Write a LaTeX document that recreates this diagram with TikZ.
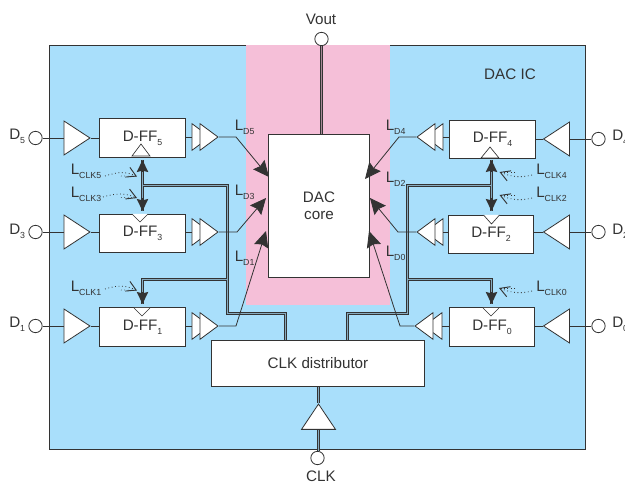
\documentclass[tikz,border=0pt]{standalone}
\usepackage{fontspec}
\setmainfont{Liberation Sans}
\usetikzlibrary{
  shapes.geometric,
  arrows.meta
}
\definecolor{icblue}{HTML}{A9DFFB}
\definecolor{corepink}{HTML}{F5BFD8}
\definecolor{inkgray}{HTML}{333333}
\newcommand{\lsub}[2]{#1\raisebox{-2.8pt}{\fontsize{6.6}{7}\selectfont #2}}

\begin{document}
\begin{tikzpicture}[
  x = 0.75pt,
  y = -0.75pt,
  font = \fontsize{11.4}{13}\selectfont,
  text = inkgray,
  % ── D flip-flop and other boxes ─────────────────────────
  ffblock/.style={
    rectangle,
    draw           = inkgray,
    line width     = 0.6pt,
    fill           = white,
    minimum width  = 64pt,
    minimum height = 29pt,
    inner sep      = 0pt
  },
  % ── Buffers ─────────────────────────────────────────────
  inbuf/.style={
    isosceles triangle,
    isosceles triangle stretches,
    draw           = inkgray,
    line width     = 0.6pt,
    fill           = white,
    minimum width  = 25.5pt,
    minimum height = 19.5pt,
    inner sep      = 0pt
  },
  outbuf/.style={
    inbuf,
    minimum width  = 20pt,
    minimum height = 13.5pt
  },
  % ── Clock marker inside a flip-flop ─────────────────────
  clkmark/.style={
    draw       = inkgray,
    line width = 0.5pt,
    fill       = white
  },
  % ── Pads ────────────────────────────────────────────────
  pad/.style={
    circle,
    draw         = inkgray,
    line width   = 0.6pt,
    fill         = white,
    minimum size = 10pt,
    inner sep    = 0pt
  },
  % ── Wires ───────────────────────────────────────────────
  wire/.style={
    draw       = inkgray,
    line width = 0.6pt
  },
  datarr/.style={
    wire,
    -{Stealth[length=12pt,width=11pt,inset=1.5pt]}
  },
  busline/.style={
    draw            = inkgray,
    line width      = 0.55pt,
    double          = icblue!70!inkgray,
    double distance = 1.1pt
  },
  bustip/.style={
    wire,
    line width = 1pt,
    -{Stealth[length=9pt,width=8.5pt,inset=1pt]}
  },
  dotarr/.style={
    draw       = inkgray,
    line width = 0.6pt,
    dotted,
    -{Straight Barb[length=7pt,width=8pt,line width=0.7pt]}
  },
  dotloop/.style={
    draw       = inkgray,
    line width = 0.55pt,
    dotted
  },
  % ── Labels ──────────────────────────────────────────────
  lbl/.style={
    anchor    = base west,
    inner sep = 0pt
  }
]
\useasboundingbox (0,0) rectangle (625,484);

% ── Background areas ───────────────────────────────────────
\node[draw=inkgray, line width=0.6pt, fill=icblue, minimum width=402pt, minimum height=303pt,
      inner sep=0pt] (ic) at (317,247) {};
\node[fill=corepink, minimum width=108pt, minimum height=195.5pt, inner sep=0pt] (pink) at (318,175) {};
\node at (510,74) (icname) {DAC IC};

% ── Main blocks ────────────────────────────────────────────
\node[ffblock, minimum width=76pt, minimum height=107pt, align=center] (core) at (319,206) {DAC\\core};
\node[ffblock, minimum width=160pt, minimum height=34.5pt] (dist) at (318,363.5) {CLK distributor};

\node[ffblock] (ff5) at (142.5,138) {D-FF\lsub{}{5}};
\node[ffblock] (ff3) at (142.5,233.5) {D-FF\lsub{}{3}};
\node[ffblock] (ff1) at (142.5,327) {D-FF\lsub{}{1}};
\node[ffblock] (ff4) at (492.5,139.5) {D-FF\lsub{}{4}};
\node[ffblock] (ff2) at (491,234.5) {D-FF\lsub{}{2}};
\node[ffblock] (ff0) at (492,327) {D-FF\lsub{}{0}};

% ── Clock buses ────────────────────────────────────────────
\coordinate (t5) at (142.5,160);
\coordinate (t3) at (142.5,211);
\coordinate (t1) at (142.5,304);
\coordinate (t4) at (491.5,160);
\coordinate (t2) at (491.5,211);
\coordinate (t0) at (491.5,304);
\coordinate (lmid) at (142.5,185.5);
\coordinate (rmid) at (491.5,185.5);
\coordinate (lbr) at (227.5,279.5);
\coordinate (rbr) at (407.5,279.5);
\coordinate (lbus) at (285.5,313.5);
\coordinate (rbus) at (347.5,313.5);

\draw[busline]
  (t5) -- (t3)
  (lmid) -| (lbr) |- (lbus) -- (lbus |- dist.north)
  (t1) |- (lbr)
  (t4) -- (t2)
  (rmid) -| (rbr) |- (rbus) -- (rbus |- dist.north)
  (t0) |- (rbr);

\foreach \t/\f in {t5/172, t3/198, t1/292}
  \draw[bustip] (142.5,\f) -- (\t);
\foreach \t/\f in {t4/172, t2/198, t0/292}
  \draw[bustip] (491.5,\f) -- (\t);

% ── Clock markers ──────────────────────────────────────────
\draw[clkmark] (132,156) -- (141,144) -- (150,156) -- cycle;
\draw[clkmark] (132,214) -- (140,222) -- (148,214);
\draw[clkmark] (134,308) -- (142,316) -- (150,308);
\draw[clkmark] (481,158) -- (490,147) -- (499,158) -- cycle;
\draw[clkmark] (483.5,215) -- (491.5,224) -- (499.5,215);
\draw[clkmark] (483,308) -- (491,316) -- (499,308);

% ── Left channels ──────────────────────────────────────────
\foreach \i/\y/\z in {5/138/137, 3/232/232, 1/326/326} {
  \node[pad] (pin\i) at (35.5,\y) {};
  \node[inbuf, anchor=apex] (inb\i) at (91,\y) {};
  \node[outbuf, anchor=apex] (ota\i) at (211,\z) {};
  \node[outbuf, anchor=apex] (otb\i) at (219,\z) {};
  \draw[wire] (pin\i) -- (inb\i);
  \draw[wire] (inb\i.apex) -- (inb\i.apex -| ff\i.west);
  \draw[wire] (ff\i.east |- ota\i) -- (ota\i);
}

% ── Right channels ─────────────────────────────────────────
\foreach \i/\y/\z in {4/139/137, 2/232/232, 0/326/326} {
  \node[pad] (pin\i) at (598.5,\y) {};
  \node[inbuf, shape border rotate=180, anchor=apex] (inb\i) at (542.5,\y) {};
  \draw[wire] (pin\i) -- (inb\i);
  \draw[wire] (inb\i.apex) -- (inb\i.apex -| ff\i.east);
}
\foreach \i/\a/\b/\z in {4/424/416/137, 2/424/416/232, 0/423/414/326} {
  \node[outbuf, shape border rotate=180, anchor=apex] (ota\i) at (\a,\z) {};
  \node[outbuf, shape border rotate=180, anchor=apex] (otb\i) at (\b,\z) {};
  \draw[wire] (ff\i.west |- ota\i) -- (ota\i);
}

% ── Data lines into the core ───────────────────────────────
\coordinate (k5) at (236,137);
\coordinate (k3) at (237,232);
\coordinate (k1) at (236,326);
\coordinate (k4) at (399,137);
\coordinate (k2) at (398,232);
\coordinate (k0) at (400,326);
\coordinate (d5) at (269,177);
\coordinate (d3) at (266,198);
\coordinate (d1) at (266,231);
\coordinate (d4) at (365,179);
\coordinate (d2) at (370,198);
\coordinate (d0) at (369,231);

\foreach \i in {5,3,1,4,2,0}
  \draw[datarr] (otb\i.apex) -- (k\i) -- (d\i);

% ── Pads for Vout and CLK ──────────────────────────────────
\node[pad] (vout) at (321.5,39) {};
\node[pad] (clkin) at (317.5,458) {};
\node[inbuf, shape border rotate=90, minimum width=25.5pt, minimum height=19pt, anchor=apex] (clkbuf) at (318.5,403) {};

\draw[busline, double=corepink!60!inkgray] (vout) -- (vout |- core.north);
\draw[busline] (clkbuf.apex) -- (clkbuf.apex |- dist.south);
\draw[busline] (clkin.north -| clkbuf.apex) -- (clkbuf.south);

% ── Labels ─────────────────────────────────────────────────
\node at (321,19) (voutlbl) {Vout};
\node at (321,476.5) (clklbl) {CLK};

\node[lbl] at (9,140)    (l5) {\lsub{D}{5}};
\node[lbl] at (9,235)    (l3) {\lsub{D}{3}};
\node[lbl] at (9,328)    (l1) {\lsub{D}{1}};
\node[lbl] at (612,141)  (l4) {\lsub{D}{4}};
\node[lbl] at (612,235)  (l2) {\lsub{D}{2}};
\node[lbl] at (612,328)  (l0) {\lsub{D}{0}};

\node[lbl] at (234.5,131)   (ld5) {\lsub{L}{D5}};
\node[lbl] at (234.5,196)   (ld3) {\lsub{L}{D3}};
\node[lbl] at (234.5,261.5) (ld1) {\lsub{L}{D1}};
\node[lbl] at (385.5,131)   (ld4) {\lsub{L}{D4}};
\node[lbl] at (385.5,183)   (ld2) {\lsub{L}{D2}};
\node[lbl] at (385.5,257)   (ld0) {\lsub{L}{D0}};

\node[lbl] at (70.5,175) (lc5) {\lsub{L}{CLK5}};
\node[lbl] at (70.5,198) (lc3) {\lsub{L}{CLK3}};
\node[lbl] at (70.5,292) (lc1) {\lsub{L}{CLK1}};
\node[lbl] at (536,175)  (lc4) {\lsub{L}{CLK4}};
\node[lbl] at (536,198)  (lc2) {\lsub{L}{CLK2}};
\node[lbl] at (536,292)  (lc0) {\lsub{L}{CLK0}};

% ── Dotted pointers ────────────────────────────────────────
\coordinate (p5) at (137,176.5);
\coordinate (p3) at (137,198);
\coordinate (p1) at (137,290.5);
\coordinate (p4) at (499.5,172);
\coordinate (p2) at (499.5,195);
\coordinate (p0) at (499,288);

\draw[dotarr] (105,176) .. controls (118,172) and (125,171) .. (p5);
\draw[dotarr] (103,197) .. controls (116,193) and (125,193) .. (p3);
\draw[dotarr] (105,289) .. controls (118,285) and (125,285) .. (p1);
\draw[dotarr] (532,175) .. controls (520,178) and (512,177) .. (p4);
\draw[dotarr] (532,198) .. controls (520,201) and (512,200) .. (p2);
\draw[dotarr] (532,291) .. controls (520,294) and (512,293) .. (p0);

\draw[dotloop] (121,176) -- (p5);
\draw[dotloop] (121,197.5) -- (p3);
\draw[dotloop] (121,290) -- (p1);
\draw[dotloop] (515,172) -- (p4);
\draw[dotloop] (515,195) -- (p2);
\draw[dotloop] (515,288) -- (p0);

\end{tikzpicture}
\end{document}
